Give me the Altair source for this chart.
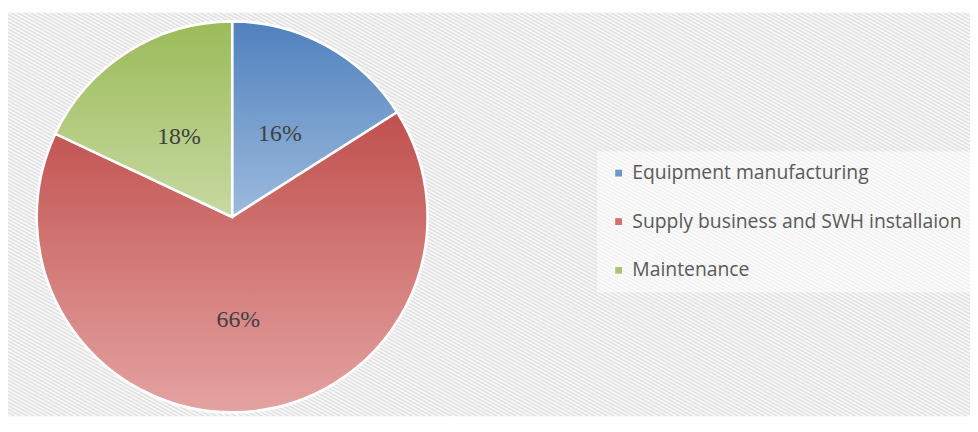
import altair as alt
import pandas as pd

# ---- data ----
categories = ["Equipment manufacturing", "Supply business and SWH installaion", "Maintenance"]
shares = [16, 66, 18]
order = [1, 2, 3]

# ---- styling ----
legend_colors = ["#6f97c9", "#d36f6d", "#a9c471"]
grad_top = ["#4f81bd", "#c0504d", "#9bbb59"]
grad_bottom = ["#9dbadd", "#e4a3a2", "#c7d9a2"]

W, H = 970, 407
CX, CY, R = 226, 206, 197

df = pd.DataFrame({"category": categories, "value": shares, "order": order})

# hatch texture as a striped linear gradient (triangular wave)
N = 260
hatch_stops = [
    {"offset": i / (2 * N), "color": ("#dedede" if i % 2 == 0 else "#fbfbfb")}
    for i in range(2 * N + 1)
]
hatch = {"gradient": "linear", "x1": 0, "y1": 1, "x2": 1.114, "y2": 0.15, "stops": hatch_stops}

bg = alt.Chart(alt.Data(values=[{"k": 0}])).mark_rect(fill=hatch).encode(
    x=alt.value(0), x2=alt.value("width"), y=alt.value(0), y2=alt.value("height")
)

base = alt.Chart(df).transform_window(
    cum="sum(value)", sort=[alt.SortField("order")], frame=[None, 0]
).transform_calculate(
    start="datum.cum - datum.value",
    mid="datum.cum - datum.value / 2",
    label="datum.value + '%'",
)

theta_scale = alt.Scale(domain=[0, 100])

legend = alt.Legend(
    title=None,
    orient="none",
    legendX=594,
    legendY=140,
    direction="vertical",
    symbolType="square",
    symbolSize=64,
    symbolStrokeColor="white",
    symbolStrokeWidth=1,
    symbolOpacity=1,
    labelFont="Open Sans",
    labelFontSize=19.5,
    labelColor="#595959",
    labelOffset=4,
    labelLimit=500,
    rowPadding=28,
    padding=12,
    fillColor="rgba(255,255,255,0.55)",
)

arcs = base.mark_arc(x=CX, y=CY, radius=R, stroke="white", strokeWidth=2.5).encode(
    theta=alt.Theta("start:Q", scale=theta_scale),
    theta2="cum:Q",
    color=alt.Color(
        "category:N",
        scale=alt.Scale(domain=categories, range=legend_colors),
        legend=legend,
    ),
)

grad_layers = []
for cat, top, bot in zip(categories, grad_top, grad_bottom):
    g = {
        "gradient": "linear", "x1": 0, "y1": 0, "x2": 0, "y2": 1,
        "stops": [{"offset": 0, "color": top}, {"offset": 1, "color": bot}],
    }
    grad_layers.append(
        base.transform_filter(alt.datum.category == cat)
        .mark_arc(x=CX, y=CY, radius=R, fill=g, stroke="white", strokeWidth=2.5)
        .encode(theta=alt.Theta("start:Q", scale=theta_scale), theta2="cum:Q")
    )

labels = base.mark_text(
    x=CX, y=CY, radius=100, dy=4, font="Liberation Serif", fontSize=24, color="#404040"
).encode(
    theta=alt.Theta("mid:Q", scale=theta_scale),
    text="label:N",
)

chart = alt.layer(bg, arcs, *grad_layers, labels).properties(
    width=W,
    height=H,
    autosize=alt.AutoSizeParams(type="none"),
    padding={"top": 3, "left": 0, "right": 0, "bottom": 0},
    background="white",
).configure_view(stroke="transparent")

chart.save("out.html", embed_options={"renderer": "svg", "actions": False})
